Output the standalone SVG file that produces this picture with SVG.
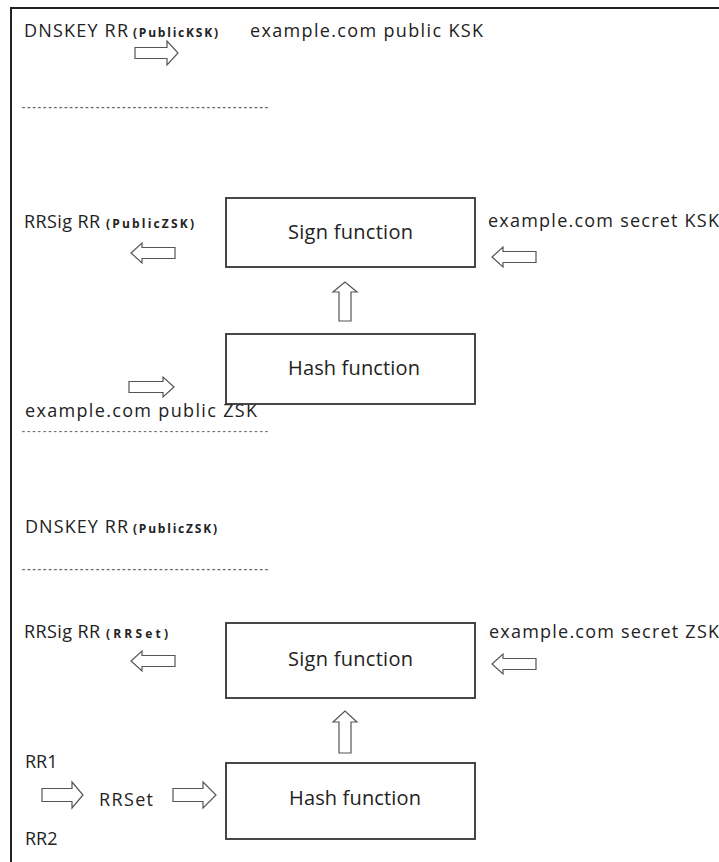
<svg xmlns="http://www.w3.org/2000/svg" width="719" height="862" viewBox="0 0 719 862">
<style>
  .t { font-family: "Open Sans", "DejaVu Sans", sans-serif; font-size: 18px; fill: #222; }
  .s { font-family: "Open Sans", "DejaVu Sans", sans-serif; font-size: 12px; font-weight: bold; fill: #222; }
  .b { font-family: "Open Sans", "DejaVu Sans", sans-serif; font-size: 20px; fill: #222; }
  .d { font-family: "Open Sans", "DejaVu Sans", sans-serif; font-size: 10px; font-weight: bold; fill: #666; }
  .box { fill: #fff; stroke: #333; stroke-width: 1.8; }
  .arr { fill: #fff; stroke: #555; stroke-width: 1.2; stroke-linejoin: miter; }
  .frame { stroke: #222; stroke-width: 2; fill: none; }
</style>
<rect width="719" height="862" fill="#fff"/>
<path class="frame" d="M11,862 V8 H719"/>

<g id="labels">
  <text class="t" x="24" y="37" textLength="104">DNSKEY RR</text>
  <text class="s" x="133" y="37" textLength="85">(PublicKSK)</text>
  <text class="t" x="250" y="37" textLength="233">example.com public KSK</text>
  <text class="d" x="22" y="110" textLength="246">-----------------------------------------------</text>

  <text class="t" x="24" y="228" textLength="76">RRSig RR</text>
  <text class="s" x="106" y="228" textLength="88">(PublicZSK)</text>
  <text class="t" x="488" y="227" textLength="231">example.com secret KSK</text>

  <text class="t" x="25" y="417" textLength="232">example.com public ZSK</text>
  <text class="d" x="22" y="434" textLength="246" style="font-size:9px">-----------------------------------------------</text>

  <text class="t" x="25" y="533" textLength="103">DNSKEY RR</text>
  <text class="s" x="133" y="533" textLength="84">(PublicZSK)</text>
  <text class="d" x="22" y="572" textLength="246">-----------------------------------------------</text>

  <text class="t" x="24" y="638" textLength="76">RRSig RR</text>
  <text class="s" x="106" y="638" textLength="62">(RRSet)</text>
  <text class="t" x="489" y="638" textLength="230">example.com secret ZSK</text>

  <text class="t" x="25" y="768">RR1</text>
  <text class="t" x="99" y="806" textLength="54">RRSet</text>
  <text class="t" x="25" y="845">RR2</text>
</g>

<g id="sign-ksk">
  <rect class="box" x="226" y="198" width="249" height="69"/>
  <text class="b" x="288" y="239" textLength="125">Sign function</text>
</g>
<g id="hash-ksk">
  <rect class="box" x="226" y="334" width="249" height="70"/>
  <text class="b" x="288" y="375" textLength="132">Hash function</text>
</g>
<g id="sign-zsk">
  <rect class="box" x="226" y="623" width="249" height="75"/>
  <text class="b" x="288" y="666" textLength="125">Sign function</text>
</g>
<g id="hash-zsk">
  <rect class="box" x="226" y="763" width="249" height="76"/>
  <text class="b" x="289" y="805" textLength="132">Hash function</text>
</g>

<g id="connectors">
  <!-- right arrows: tail, head base, tip -->
  <polygon class="arr" points="135,47.5 167,47.5 167,41 178,53 167,65 167,58.5 135,58.5"/>
  <polygon class="arr" points="129,381.5 163,381.5 163,377 174,387 163,397 163,392.5 129,392.5"/>
  <polygon class="arr" points="42,788.5 72,788.5 72,782 83,795 72,808 72,801.5 42,801.5"/>
  <polygon class="arr" points="173,788.5 203,788.5 203,782 216,795 203,808 203,801.5 173,801.5"/>
  <!-- left arrows -->
  <polygon class="arr" points="175,247.5 142,247.5 142,243 131,253 142,263 142,258.5 175,258.5"/>
  <polygon class="arr" points="536,251.5 503,251.5 503,247 492,257 503,267 503,262.5 536,262.5"/>
  <polygon class="arr" points="175,655.5 142,655.5 142,651 131,661 142,671 142,666.5 175,666.5"/>
  <polygon class="arr" points="536,658.5 503,658.5 503,654 492,664 503,674 503,669.5 536,669.5"/>
  <!-- up arrows -->
  <polygon class="arr" points="339,321 339,292 333,292 345,282 357,292 351,292 351,321"/>
  <polygon class="arr" points="339,753 339,722 333,722 345,711 357,722 351,722 351,753"/>
</g>
</svg>
